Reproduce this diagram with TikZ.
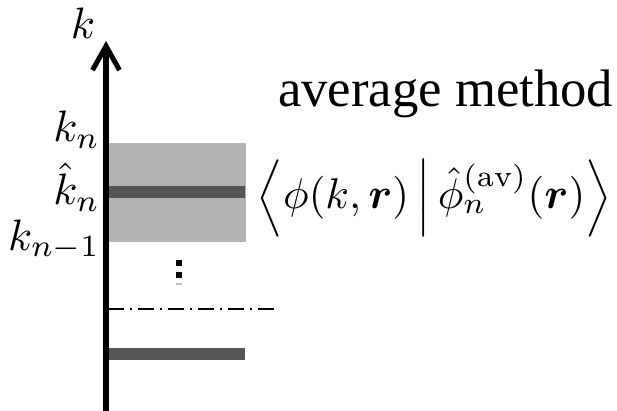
\documentclass[tikz,border=0pt]{standalone}
\usepackage{amsmath,bm}
\usepackage{fontspec}
\newfontfamily\timesfont{Liberation Serif}
\usetikzlibrary{arrows.meta}
\definecolor{bandgray}{HTML}{B4B4B4}
\definecolor{bargray}{HTML}{555555}
\tikzset{
  bar/.style={fill=bargray, draw=none},
  lbl/.style={anchor=east, inner sep=0pt, scale=4.4},
  dashdot/.style={line width=2pt, dash pattern=on 16pt off 6pt on 2pt off 6pt},
  axis/.style={line width=5.5pt, -{Straight Barb[length=24pt, width=27pt, line width=5pt]}}
}
\begin{document}
\begin{tikzpicture}[x=1pt, y=-1pt]
\useasboundingbox (0,0) rectangle (617,410);
% band and bars
\fill[bandgray] (108,143) rectangle (246,242);
\fill[bar] (108,186) rectangle (245,198);
\fill[bar] (108,348) rectangle (245,360);
% dash-dot line
\coordinate (dl) at (108,309);
\coordinate (dr) at (275,309);
\draw[dashdot] (dl) -- (dr);
% vertical dots
\fill (176,260) rectangle (182,266);
\fill (176,272) rectangle (182,278);
\fill[black!25] (176,283) rectangle (182,284.5);
% axis
\coordinate (bot) at (106,412);
\coordinate (top) at (106,41);
\draw[axis] (bot) -- (top);
% labels
\node[inner sep=0pt, scale=4.4] (k) at (83,23) {$k$};
\node[lbl] (kn) at (101,130) {$k_n$};
\node[lbl] (khat) at (101,187) {$\hat{k}_n$};
\node[lbl] (knm1) at (101,240) {$k_{n-1}$};
\node[anchor=base west, inner sep=0pt, font=\timesfont\fontsize{52.7}{60}\selectfont] (title) at (278,106) {average method};
\node[anchor=west, inner sep=0pt, scale=4.3] (bk) at (256,198)
  {$\left\langle \phi(k,\bm{r}) \,\middle|\, \hat{\phi}_n^{(\mathrm{av})}(\bm{r}) \right\rangle$};
\end{tikzpicture}
\end{document}
